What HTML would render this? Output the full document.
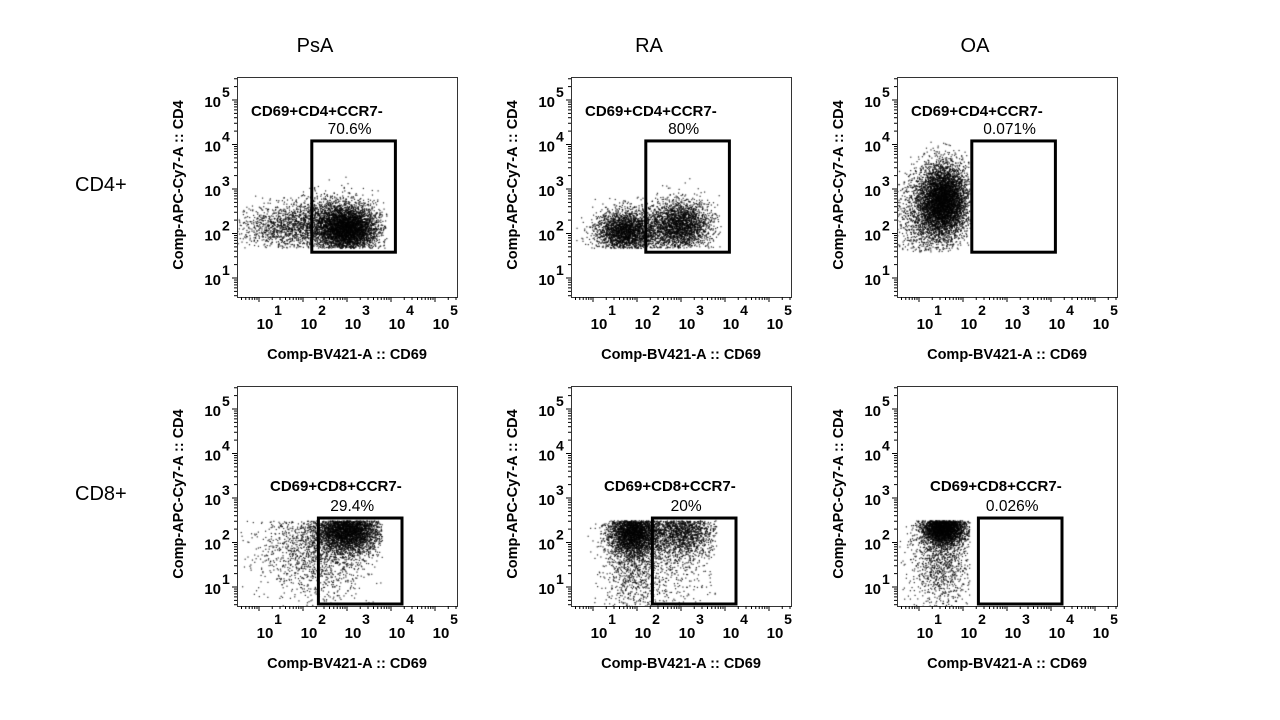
<!DOCTYPE html>
<html><head><meta charset="utf-8">
<style>
html,body{margin:0;padding:0;background:#fff;}
#root{position:relative;width:1280px;height:720px;overflow:hidden;font-family:"Liberation Sans",Arial,sans-serif;}
canvas{position:absolute;}
svg{position:absolute;left:0;top:0;}
</style></head>
<body>
<div id="root">
<svg id="ov" width="1280" height="720"></svg>
</div>
<script>
// ---- data ----
const columnTitles = ["PsA", "RA", "OA"];
const rowTitles = ["CD4+", "CD8+"];
const gateNames = [["CD69+CD4+CCR7-","CD69+CD4+CCR7-","CD69+CD4+CCR7-"],["CD69+CD8+CCR7-","CD69+CD8+CCR7-","CD69+CD8+CCR7-"]];
const gatePercents = [["70.6%","80%","0.071%"],["29.4%","20%","0.026%"]];
// gate bounds in log10 units [xMin, xMax, yMin, yMax]
const gateBounds = [
  [[2.2,4.1,1.58,4.08],[2.2,4.1,1.58,4.08],[2.2,4.1,1.58,4.08]],
  [[2.35,4.25,0.0,2.55],[2.35,4.25,0.0,2.55],[2.35,4.25,0.0,2.55]]
];
// clusters per panel: [cx, cy, sdx, sdy, count] in log10 units
const clusters = [
  [
    [[1.6,2.15,0.55,0.25,1100],[3.0,2.1,0.35,0.26,3800],[2.6,2.3,0.5,0.3,1200]],
    [[1.7,2.05,0.33,0.24,2200],[3.0,2.2,0.35,0.28,2200],[2.3,2.1,0.4,0.3,600]],
    [[1.55,2.75,0.28,0.42,5000],[1.1,2.4,0.35,0.5,1000]]
  ],
  [
    [[3.0,2.3,0.38,0.28,3800],[2.0,1.9,0.6,0.55,900],[2.6,1.6,0.5,0.6,500]],
    [[1.9,2.25,0.28,0.28,3000],[1.9,1.5,0.35,0.6,900],[3.0,2.3,0.4,0.33,2000],[2.8,1.4,0.5,0.6,350]],
    [[1.55,2.35,0.25,0.2,3200],[1.5,1.6,0.35,0.55,1100]]
  ]
];
// data limits [xMin, xMax, yMin, yMax]
const dataLimits = [
  [[0.5,3.9,1.68,3.3],[0.5,3.9,1.68,3.3],[0.5,2.15,1.6,4.1]],
  [[0.5,3.8,0.45,2.5],[0.5,3.8,0.45,2.5],[0.5,2.15,0.45,2.5]]
];
const tickExponents = [1,2,3,4,5];

// ---- layout ----
const colLeft = [237, 571, 897];
const rowTop = [77, 386];
const W = 220, H = 220;
function xScale(c, d){ return colLeft[c] + 22 + (d-1)*44; }
function yScale(r, d){ return rowTop[r] + 23 + (5-d)*44.5; }

const NS = "http://www.w3.org/2000/svg";
const ov = document.getElementById('ov');
function mk(tag, attrs, parent){
  const e = document.createElementNS(NS, tag);
  for (const k in attrs) e.setAttribute(k, attrs[k]);
  (parent||ov).appendChild(e); return e;
}
function txt(x,y,s,size,weight,anchor,parent){
  const t = mk('text',{x:x,y:y,'font-size':size,'font-weight':weight||'normal','text-anchor':anchor||'start',fill:'#000','font-family':'Liberation Sans, Arial, sans-serif'},parent);
  t.textContent = s; return t;
}
function halton(i, b){ let f=1, r=0; while(i>0){ f/=b; r+=f*(i%b); i=Math.floor(i/b);} return r; }
function gauss(u1,u2){ u1=Math.max(u1,1e-6); return Math.sqrt(-2*Math.log(u1))*Math.cos(2*Math.PI*u2); }

columnTitles.forEach((t,c)=>{
  const e = txt(colLeft[c]+78, 52, t, 20, 'normal', 'middle');
  
  
});
rowTitles.forEach((t,r)=>{
  const e = txt(75, rowTop[r]+114, t, 20, 'normal', 'start');
  
  
});

for (let r=0;r<2;r++) for (let c=0;c<3;c++){
  const L=colLeft[c], T=rowTop[r];
  const g = mk('g',{});
  
  
  const cv = document.createElement('canvas');
  cv.width=W; cv.height=H; cv.style.left=L+'px'; cv.style.top=T+'px';
  
  
  document.getElementById('root').insertBefore(cv, ov);
  const ctx = cv.getContext('2d');
  ctx.fillStyle='rgba(0,0,0,0.85)';
  const lim = dataLimits[r][c];
  let idx = 1 + (r*3+c)*7919;
  clusters[r][c].forEach(cl=>{
    for(let i=0;i<cl[4];i++){
      idx++;
      const gx = gauss(halton(idx,2), halton(idx,3));
      const gy = gauss(halton(idx,5), halton(idx,7));
      let dx = cl[0]+gx*cl[2], dy = cl[1]+gy*cl[3];
      if (dx<lim[0]||dx>lim[1]) continue;
      if (dy>lim[3]) continue;
      if (dy<lim[2]) { if (r===0) continue; if (dy<lim[2]-0.3) continue; }
      const px = xScale(c,dx)-L, py = yScale(r,dy)-T;
      ctx.fillRect(px,py,1.2,1.2);
    }
  });
  const fr = mk('rect',{x:L+0.5,y:T+0.5,width:W,height:H,fill:'none',stroke:'#333','stroke-width':1},g);
   
  const tg = mk('g',{stroke:'#000','stroke-width':1},g);
   
  for (let d=0; d<=5; d++){
    for (let m=1;m<10;m++){
      const v = d + Math.log10(m);
      const x = xScale(c,v), y = yScale(r,v);
      const len = m===1?5:3;
      if (x>L && x<L+W) mk('line',{x1:x,y1:T+H,x2:x,y2:T+H+len},tg);
      if (y>T && y<T+H) mk('line',{x1:L,y1:y,x2:L-len,y2:y},tg);
    }
  }
  tickExponents.forEach(e=>{
    const x = xScale(c,e);
    const a = txt(x+6, T+H+32, '10', 15, 'bold', 'middle', g);
     
    const b = txt(x+19, T+H+18, String(e), 14, 'bold', 'middle', g);
     
    const y = yScale(r,e);
    const a2 = txt(L-16, y+7, '10', 15, 'bold', 'end', g);
     
    const b2 = txt(L-15, y-3, String(e), 14, 'bold', 'start', g);
     
  });
  const xt = txt(L+110, T+H+62, 'Comp-BV421-A :: CD69', 14.5, 'bold', 'middle', g);
   
  const yt = txt(0,0,'Comp-APC-Cy7-A :: CD4',14.5,'bold','middle',g);
  yt.setAttribute('transform','translate('+(L-54)+','+(T+108)+') rotate(-90)');
   
  const gb = gateBounds[r][c];
  const gx1 = xScale(c,gb[0]), gx2 = xScale(c,gb[1]);
  const gy1 = yScale(r,gb[3]);
  const gy2 = Math.min(yScale(r,gb[2]), T+H-2);
  const gr = mk('rect',{x:gx1,y:gy1,width:gx2-gx1,height:gy2-gy1,fill:'none',stroke:'#000','stroke-width':3},g);
   
  const gn = txt(r===0? L+14 : L+33, r===0? gy1-25 : gy1-27, gateNames[r][c], 15, 'bold', 'start', g);
   
  const gp = txt((gx1+gx2)/2 - (r===0?4:8), gy1-7, gatePercents[r][c], 15.5, 'normal', 'middle', g);
   
}
</script>
</body></html>
